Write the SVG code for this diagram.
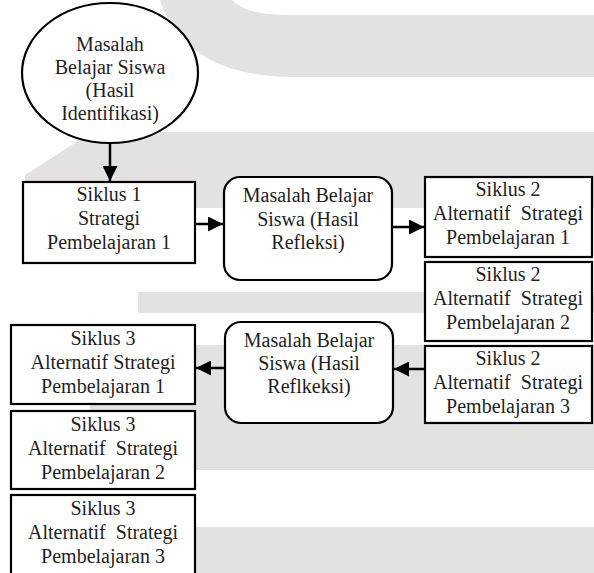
<svg xmlns="http://www.w3.org/2000/svg" width="594" height="573" viewBox="0 0 594 573">
<style>
.wm{fill:#e3e2e1;stroke:none}
.box{fill:#fff;stroke:#000;stroke-width:2.2}
.t{font-family:"Liberation Serif","Times New Roman",serif;font-size:20px;fill:#1e1e1e;text-anchor:middle;white-space:pre}
.c{fill:none;stroke:#000;stroke-width:2.5}
</style>
<defs>
<marker id="ah" viewBox="0 0 10 10" refX="10" refY="5" markerWidth="6" markerHeight="6" markerUnits="strokeWidth" orient="auto">
<path d="M0,0 L10,5 L0,10 Z" fill="#000"/>
</marker>
</defs>
<rect width="594" height="573" fill="#fff"/>
<g id="watermark">
<path class="wm" d="M160,0 L232,0 Q245,15 290,15 L594,15 L594,77 L290,77 Q185,75 160,0 Z"/>
<polygon class="wm" points="25,175 92,132 594,132 594,208 23,208"/>
<rect class="wm" x="138" y="292" width="456" height="21"/>
<rect class="wm" x="90" y="345" width="504" height="125"/>
<rect class="wm" x="100" y="527" width="494" height="46"/>
</g>
<g id="connectors">
<line class="c" x1="110" y1="143" x2="110" y2="181" marker-end="url(#ah)"/>
<line class="c" x1="195" y1="224" x2="223" y2="224" marker-end="url(#ah)"/>
<line class="c" x1="392" y1="227" x2="424" y2="227" marker-end="url(#ah)"/>
<line class="c" x1="425" y1="369" x2="394" y2="369" marker-end="url(#ah)"/>
<line class="c" x1="225" y1="368" x2="196" y2="368" marker-end="url(#ah)"/>
</g>
<g id="n-masalah">
<ellipse class="box" cx="110" cy="73" rx="88" ry="70"/>
<text class="t" x="110" y="51">Masalah</text>
<text class="t" x="110" y="74">Belajar Siswa</text>
<text class="t" x="110" y="97">(Hasil</text>
<text class="t" x="110" y="120">Identifikasi)</text>
</g>
<g id="n-siklus1">
<rect class="box" x="23" y="182" width="172" height="81"/>
<text class="t" x="109" y="201">Siklus 1</text>
<text class="t" x="109" y="225">Strategi</text>
<text class="t" x="109" y="249">Pembelajaran 1</text>
</g>
<g id="n-refleksi1">
<rect class="box" x="224" y="177" width="168" height="103" rx="16"/>
<text class="t" x="308" y="202">Masalah Belajar</text>
<text class="t" x="308" y="226">Siswa (Hasil</text>
<text class="t" x="308" y="249">Refleksi)</text>
</g>
<g id="n-s2a1">
<rect class="box" x="425" y="177" width="167" height="80"/>
<text class="t" x="508" y="196">Siklus 2</text>
<text class="t" x="508" y="220">Alternatif  Strategi</text>
<text class="t" x="508" y="244">Pembelajaran 1</text>
</g>
<g id="n-s2a2">
<rect class="box" x="425" y="262" width="167" height="79"/>
<text class="t" x="508" y="281">Siklus 2</text>
<text class="t" x="508" y="305">Alternatif  Strategi</text>
<text class="t" x="508" y="329">Pembelajaran 2</text>
</g>
<g id="n-s2a3">
<rect class="box" x="425" y="346" width="167" height="77"/>
<text class="t" x="508" y="365">Siklus 2</text>
<text class="t" x="508" y="389">Alternatif  Strategi</text>
<text class="t" x="508" y="413">Pembelajaran 3</text>
</g>
<g id="n-refleksi2">
<rect class="box" x="225" y="322" width="168" height="101" rx="16"/>
<text class="t" x="309" y="347">Masalah Belajar</text>
<text class="t" x="309" y="370">Siswa (Hasil</text>
<text class="t" x="309" y="393">Reflkeksi)</text>
</g>
<g id="n-s3a1">
<rect class="box" x="11" y="325" width="184" height="79"/>
<text class="t" x="103" y="345">Siklus 3</text>
<text class="t" x="103" y="369">Alternatif Strategi</text>
<text class="t" x="103" y="393">Pembelajaran 1</text>
</g>
<g id="n-s3a2">
<rect class="box" x="11" y="411" width="184" height="78"/>
<text class="t" x="103" y="431">Siklus 3</text>
<text class="t" x="103" y="455">Alternatif  Strategi</text>
<text class="t" x="103" y="479">Pembelajaran 2</text>
</g>
<g id="n-s3a3">
<rect class="box" x="11" y="495" width="184" height="90"/>
<text class="t" x="103" y="515">Siklus 3</text>
<text class="t" x="103" y="539">Alternatif  Strategi</text>
<text class="t" x="103" y="563">Pembelajaran 3</text>
</g>
</svg>
